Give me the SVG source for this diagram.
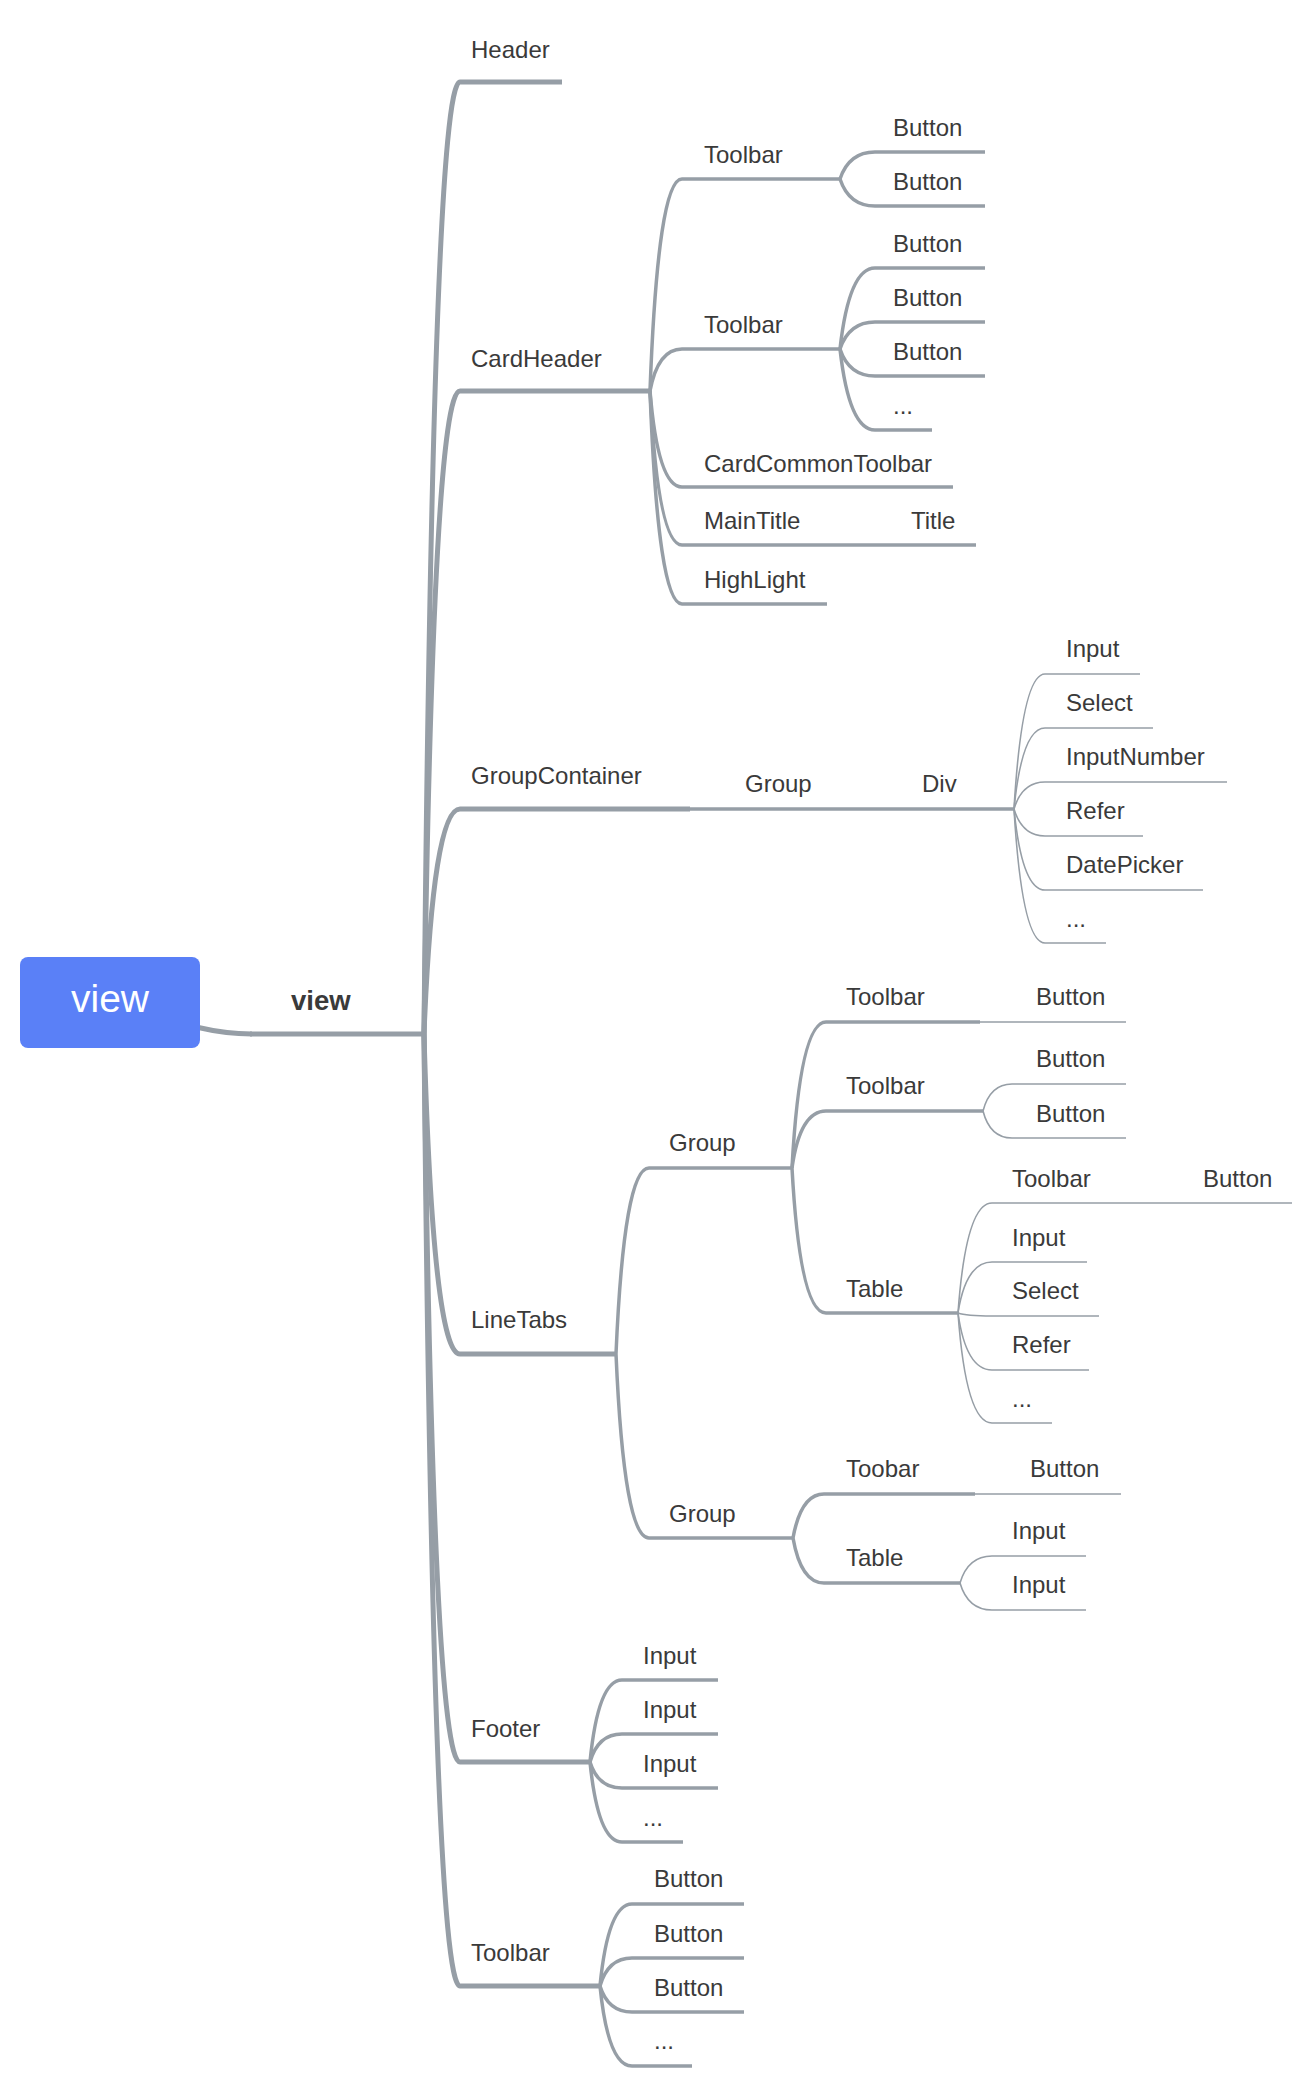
<svg xmlns="http://www.w3.org/2000/svg" width="1314" height="2088" viewBox="0 0 1314 2088">
  <style>
    .t { font-family: "Liberation Sans", Arial, Helvetica, sans-serif; font-size: 24px; fill: #3a3a3a; }
    .lbl { font-family: "Liberation Sans", Arial, Helvetica, sans-serif; font-size: 27.5px; font-weight: bold; fill: #3a3a3a; }
    .root-t { font-family: "Liberation Sans", Arial, Helvetica, sans-serif; font-size: 39px; fill: #ffffff; }
    path, line { fill: none; stroke: #969ea6; stroke-linecap: butt; }
    .w1 { stroke-width: 5; }
    .w2 { stroke-width: 3.5; }
    .w4 { stroke-width: 1.6; }
  </style>
  <rect width="1314" height="2088" fill="#ffffff"/>

  <!-- connectors: quadratic curves from each parent junction to the start of the child's underline -->
  <g id="connectors">
    <!-- root box to view label -->
    <path class="w1" d="M 196 1027 Q 226 1034 252 1034"/>
    <!-- view -> first level -->
    <path class="w1" d="M 424 1034 Q 433 82 460 82"/>
    <path class="w1" d="M 424 1034 Q 433 391 460 391"/>
    <path class="w1" d="M 424 1034 Q 433 809 460 809"/>
    <path class="w1" d="M 424 1034 Q 433 1354 460 1354"/>
    <path class="w1" d="M 424 1034 Q 433 1762 460 1762"/>
    <path class="w1" d="M 424 1034 Q 433 1986 460 1986"/>
    <!-- CardHeader -->
    <path class="w2" d="M 650 391 Q 658 179 682 179"/>
    <path class="w2" d="M 650 391 Q 658 349 682 349"/>
    <path class="w2" d="M 650 391 Q 658 487 682 487"/>
    <path class="w2" d="M 650 391 Q 658 545 682 545"/>
    <path class="w2" d="M 650 391 Q 658 604 682 604"/>
    <!-- CardHeader / Toolbar 1 -->
    <path class="w2" d="M 840 179 Q 849 152 875 152"/>
    <path class="w2" d="M 840 179 Q 849 206 875 206"/>
    <!-- CardHeader / Toolbar 2 -->
    <path class="w2" d="M 840 349 Q 849 268 875 268"/>
    <path class="w2" d="M 840 349 Q 849 322 875 322"/>
    <path class="w2" d="M 840 349 Q 849 376 875 376"/>
    <path class="w2" d="M 840 349 Q 849 430 875 430"/>
    <!-- GroupContainer / Group / Div -->
    <path class="w4" d="M 1014 809 Q 1022 674 1045 674"/>
    <path class="w4" d="M 1014 809 Q 1022 728 1045 728"/>
    <path class="w4" d="M 1014 809 Q 1022 782 1045 782"/>
    <path class="w4" d="M 1014 809 Q 1022 836 1045 836"/>
    <path class="w4" d="M 1014 809 Q 1022 890 1045 890"/>
    <path class="w4" d="M 1014 809 Q 1022 943 1045 943"/>
    <!-- LineTabs -->
    <path class="w2" d="M 616 1354 Q 624 1168 649 1168"/>
    <path class="w2" d="M 616 1354 Q 624 1538 649 1538"/>
    <!-- LineTabs / Group 1 -->
    <path class="w2" d="M 792 1168 Q 800 1022 826 1022"/>
    <path class="w2" d="M 792 1168 Q 800 1111 826 1111"/>
    <path class="w2" d="M 792 1168 Q 800 1313 826 1313"/>
    <!-- Group 1 / Toolbar -->
    <path class="w4" d="M 983 1111 Q 990 1084 1012 1084"/>
    <path class="w4" d="M 983 1111 Q 990 1138 1012 1138"/>
    <!-- Group 1 / Table -->
    <path class="w4" d="M 958 1313 Q 966 1203 992 1203"/>
    <path class="w4" d="M 958 1313 Q 966 1262 992 1262"/>
    <path class="w4" d="M 958 1313 Q 966 1316 992 1316"/>
    <path class="w4" d="M 958 1313 Q 966 1370 992 1370"/>
    <path class="w4" d="M 958 1313 Q 966 1423 992 1423"/>
    <!-- LineTabs / Group 2 -->
    <path class="w2" d="M 793 1538 Q 801 1494 824 1494"/>
    <path class="w2" d="M 793 1538 Q 801 1583 824 1583"/>
    <!-- Group 2 / Table -->
    <path class="w4" d="M 960 1583 Q 968 1556 992 1556"/>
    <path class="w4" d="M 960 1583 Q 968 1610 992 1610"/>
    <!-- Footer -->
    <path class="w2" d="M 590 1762 Q 598 1680 622 1680"/>
    <path class="w2" d="M 590 1762 Q 598 1734 622 1734"/>
    <path class="w2" d="M 590 1762 Q 598 1788 622 1788"/>
    <path class="w2" d="M 590 1762 Q 598 1842 622 1842"/>
    <!-- Toolbar (bottom) -->
    <path class="w2" d="M 600 1986 Q 608 1904 632 1904"/>
    <path class="w2" d="M 600 1986 Q 608 1958 632 1958"/>
    <path class="w2" d="M 600 1986 Q 608 2012 632 2012"/>
    <path class="w2" d="M 600 1986 Q 608 2066 632 2066"/>
  </g>

  <!-- root -->
  <g id="root">
    <rect x="20" y="957" width="180" height="91" rx="8" ry="8" fill="#5a80f7"/>
    <text class="root-t" x="110" y="1012" text-anchor="middle">view</text>
  </g>
  <g id="view">
    <line class="w1" x1="250" y1="1034" x2="424" y2="1034"/>
    <text class="lbl" x="291" y="1010">view</text>
  </g>

  <!-- first level -->
  <g id="header">
    <line class="w1" x1="460" y1="82" x2="562" y2="82"/>
    <text class="t" x="471" y="58">Header</text>
  </g>
  <g id="card-header">
    <line class="w1" x1="460" y1="391" x2="650" y2="391"/>
    <text class="t" x="471" y="367">CardHeader</text>
  </g>
  <g id="group-container">
    <line class="w1" x1="460" y1="809" x2="690" y2="809"/>
    <text class="t" x="471" y="784">GroupContainer</text>
  </g>
  <g id="line-tabs">
    <line class="w1" x1="460" y1="1354" x2="616" y2="1354"/>
    <text class="t" x="471" y="1328">LineTabs</text>
  </g>
  <g id="footer">
    <line class="w1" x1="460" y1="1762" x2="590" y2="1762"/>
    <text class="t" x="471" y="1737">Footer</text>
  </g>
  <g id="toolbar">
    <line class="w1" x1="460" y1="1986" x2="600" y2="1986"/>
    <text class="t" x="471" y="1961">Toolbar</text>
  </g>

  <!-- CardHeader children -->
  <g id="ch-toolbar-1">
    <line class="w2" x1="682" y1="179" x2="840" y2="179"/>
    <text class="t" x="704" y="163">Toolbar</text>
  </g>
  <g id="ch-toolbar-1-button-1">
    <line class="w2" x1="875" y1="152" x2="985" y2="152"/>
    <text class="t" x="893" y="136">Button</text>
  </g>
  <g id="ch-toolbar-1-button-2">
    <line class="w2" x1="875" y1="206" x2="985" y2="206"/>
    <text class="t" x="893" y="190">Button</text>
  </g>
  <g id="ch-toolbar-2">
    <line class="w2" x1="682" y1="349" x2="840" y2="349"/>
    <text class="t" x="704" y="333">Toolbar</text>
  </g>
  <g id="ch-toolbar-2-button-1">
    <line class="w2" x1="875" y1="268" x2="985" y2="268"/>
    <text class="t" x="893" y="252">Button</text>
  </g>
  <g id="ch-toolbar-2-button-2">
    <line class="w2" x1="875" y1="322" x2="985" y2="322"/>
    <text class="t" x="893" y="306">Button</text>
  </g>
  <g id="ch-toolbar-2-button-3">
    <line class="w2" x1="875" y1="376" x2="985" y2="376"/>
    <text class="t" x="893" y="360">Button</text>
  </g>
  <g id="ch-toolbar-2-more">
    <line class="w2" x1="875" y1="430" x2="932" y2="430"/>
    <text class="t" x="893" y="414">...</text>
  </g>
  <g id="ch-common-toolbar">
    <line class="w2" x1="682" y1="487" x2="953" y2="487"/>
    <text class="t" x="704" y="472">CardCommonToolbar</text>
  </g>
  <g id="ch-main-title">
    <line class="w2" x1="682" y1="545" x2="857" y2="545"/>
    <text class="t" x="704" y="529">MainTitle</text>
  </g>
  <g id="ch-main-title-title">
    <line class="w2" x1="857" y1="545" x2="976" y2="545"/>
    <text class="t" x="911" y="529">Title</text>
  </g>
  <g id="ch-highlight">
    <line class="w2" x1="682" y1="604" x2="827" y2="604"/>
    <text class="t" x="704" y="588">HighLight</text>
  </g>

  <!-- GroupContainer children -->
  <g id="gc-group">
    <line class="w2" x1="690" y1="809" x2="900" y2="809"/>
    <text class="t" x="745" y="792">Group</text>
  </g>
  <g id="gc-div">
    <line class="w2" x1="900" y1="809" x2="1014" y2="809"/>
    <text class="t" x="922" y="792">Div</text>
  </g>
  <g id="gc-input">
    <line class="w4" x1="1045" y1="674" x2="1140" y2="674"/>
    <text class="t" x="1066" y="657">Input</text>
  </g>
  <g id="gc-select">
    <line class="w4" x1="1045" y1="728" x2="1153" y2="728"/>
    <text class="t" x="1066" y="711">Select</text>
  </g>
  <g id="gc-input-number">
    <line class="w4" x1="1045" y1="782" x2="1227" y2="782"/>
    <text class="t" x="1066" y="765">InputNumber</text>
  </g>
  <g id="gc-refer">
    <line class="w4" x1="1045" y1="836" x2="1143" y2="836"/>
    <text class="t" x="1066" y="819">Refer</text>
  </g>
  <g id="gc-date-picker">
    <line class="w4" x1="1045" y1="890" x2="1203" y2="890"/>
    <text class="t" x="1066" y="873">DatePicker</text>
  </g>
  <g id="gc-more">
    <line class="w4" x1="1045" y1="943" x2="1106" y2="943"/>
    <text class="t" x="1066" y="927">...</text>
  </g>

  <!-- LineTabs children -->
  <g id="lt-group-1">
    <line class="w2" x1="649" y1="1168" x2="792" y2="1168"/>
    <text class="t" x="669" y="1151">Group</text>
  </g>
  <g id="lt-g1-toolbar-1">
    <line class="w2" x1="826" y1="1022" x2="980" y2="1022"/>
    <text class="t" x="846" y="1005">Toolbar</text>
  </g>
  <g id="lt-g1-toolbar-1-button">
    <line class="w4" x1="980" y1="1022" x2="1126" y2="1022"/>
    <text class="t" x="1036" y="1005">Button</text>
  </g>
  <g id="lt-g1-toolbar-2">
    <line class="w2" x1="826" y1="1111" x2="983" y2="1111"/>
    <text class="t" x="846" y="1094">Toolbar</text>
  </g>
  <g id="lt-g1-toolbar-2-button-1">
    <line class="w4" x1="1012" y1="1084" x2="1126" y2="1084"/>
    <text class="t" x="1036" y="1067">Button</text>
  </g>
  <g id="lt-g1-toolbar-2-button-2">
    <line class="w4" x1="1012" y1="1138" x2="1126" y2="1138"/>
    <text class="t" x="1036" y="1122">Button</text>
  </g>
  <g id="lt-g1-table">
    <line class="w2" x1="826" y1="1313" x2="958" y2="1313"/>
    <text class="t" x="846" y="1297">Table</text>
  </g>
  <g id="lt-g1-table-toolbar">
    <line class="w4" x1="992" y1="1203" x2="1146" y2="1203"/>
    <text class="t" x="1012" y="1187">Toolbar</text>
  </g>
  <g id="lt-g1-table-toolbar-button">
    <line class="w4" x1="1146" y1="1203" x2="1292" y2="1203"/>
    <text class="t" x="1203" y="1187">Button</text>
  </g>
  <g id="lt-g1-table-input">
    <line class="w4" x1="992" y1="1262" x2="1087" y2="1262"/>
    <text class="t" x="1012" y="1246">Input</text>
  </g>
  <g id="lt-g1-table-select">
    <line class="w4" x1="992" y1="1316" x2="1099" y2="1316"/>
    <text class="t" x="1012" y="1299">Select</text>
  </g>
  <g id="lt-g1-table-refer">
    <line class="w4" x1="992" y1="1370" x2="1089" y2="1370"/>
    <text class="t" x="1012" y="1353">Refer</text>
  </g>
  <g id="lt-g1-table-more">
    <line class="w4" x1="992" y1="1423" x2="1052" y2="1423"/>
    <text class="t" x="1012" y="1407">...</text>
  </g>
  <g id="lt-group-2">
    <line class="w2" x1="649" y1="1538" x2="793" y2="1538"/>
    <text class="t" x="669" y="1522">Group</text>
  </g>
  <g id="lt-g2-toobar">
    <line class="w2" x1="824" y1="1494" x2="975" y2="1494"/>
    <text class="t" x="846" y="1477">Toobar</text>
  </g>
  <g id="lt-g2-toobar-button">
    <line class="w4" x1="975" y1="1494" x2="1121" y2="1494"/>
    <text class="t" x="1030" y="1477">Button</text>
  </g>
  <g id="lt-g2-table">
    <line class="w2" x1="824" y1="1583" x2="960" y2="1583"/>
    <text class="t" x="846" y="1566">Table</text>
  </g>
  <g id="lt-g2-table-input-1">
    <line class="w4" x1="992" y1="1556" x2="1086" y2="1556"/>
    <text class="t" x="1012" y="1539">Input</text>
  </g>
  <g id="lt-g2-table-input-2">
    <line class="w4" x1="992" y1="1610" x2="1086" y2="1610"/>
    <text class="t" x="1012" y="1593">Input</text>
  </g>

  <!-- Footer children -->
  <g id="ft-input-1">
    <line class="w2" x1="622" y1="1680" x2="718" y2="1680"/>
    <text class="t" x="643" y="1664">Input</text>
  </g>
  <g id="ft-input-2">
    <line class="w2" x1="622" y1="1734" x2="718" y2="1734"/>
    <text class="t" x="643" y="1718">Input</text>
  </g>
  <g id="ft-input-3">
    <line class="w2" x1="622" y1="1788" x2="718" y2="1788"/>
    <text class="t" x="643" y="1772">Input</text>
  </g>
  <g id="ft-more">
    <line class="w2" x1="622" y1="1842" x2="683" y2="1842"/>
    <text class="t" x="643" y="1826">...</text>
  </g>

  <!-- bottom Toolbar children -->
  <g id="tb-button-1">
    <line class="w2" x1="632" y1="1904" x2="744" y2="1904"/>
    <text class="t" x="654" y="1887">Button</text>
  </g>
  <g id="tb-button-2">
    <line class="w2" x1="632" y1="1958" x2="744" y2="1958"/>
    <text class="t" x="654" y="1942">Button</text>
  </g>
  <g id="tb-button-3">
    <line class="w2" x1="632" y1="2012" x2="744" y2="2012"/>
    <text class="t" x="654" y="1996">Button</text>
  </g>
  <g id="tb-more">
    <line class="w2" x1="632" y1="2066" x2="692" y2="2066"/>
    <text class="t" x="654" y="2049">...</text>
  </g>
</svg>
